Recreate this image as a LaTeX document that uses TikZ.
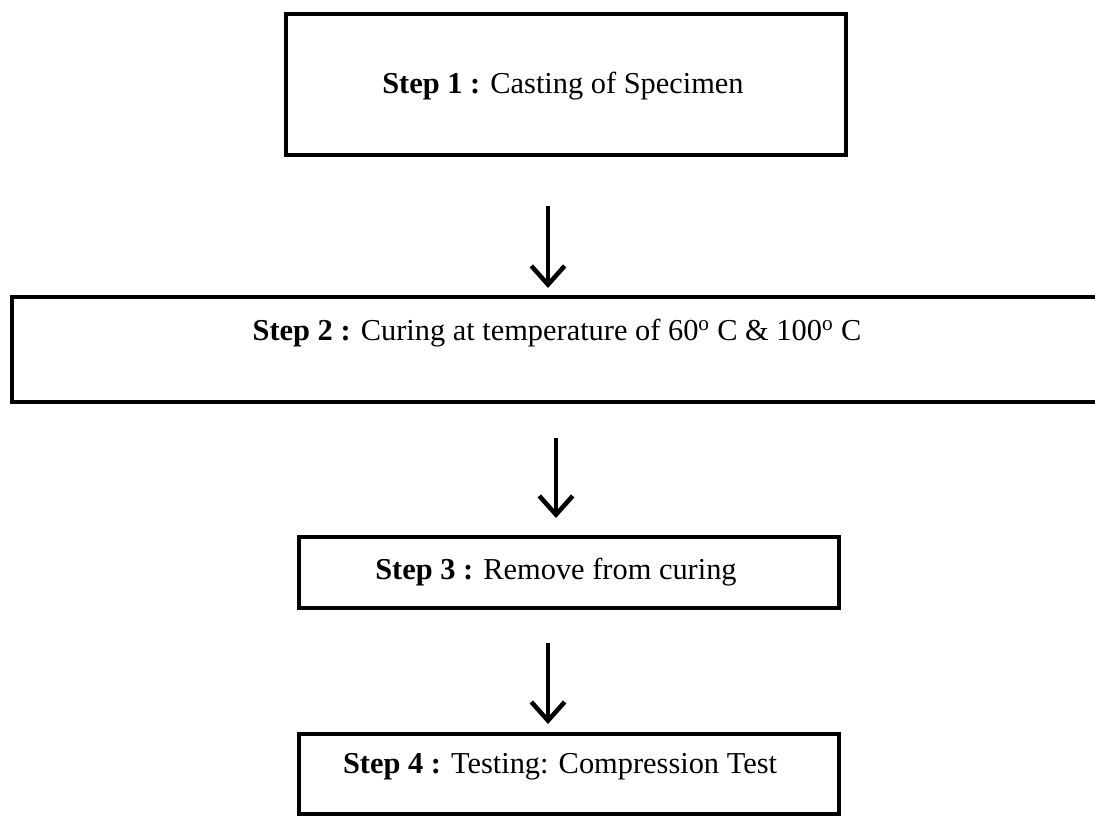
\documentclass[tikz,border=0pt]{standalone}
\usepackage{fontspec}
\setmainfont{Liberation Serif}
\usetikzlibrary{arrows.meta}
\begin{document}
\begin{tikzpicture}[x=0.75pt,y=-0.75pt,
  stepbox/.style={draw=black, line width=3.6pt, rectangle, inner sep=0pt},
  steptext/.style={font=\fontsize{22.8}{26}\selectfont, inner sep=0pt},
  flow/.style={line width=3pt, -{Straight Barb[length=14pt,width=25pt,line width=3.4pt]}}]
\useasboundingbox (0,0) rectangle (1095,817);
\clip (0,0) rectangle (1095,817);
% step boxes (px coordinates, y downward)
\node[stepbox, minimum width=560*0.75pt, minimum height=141*0.75pt] (s1) at (566,84.5) {};
\node[stepbox, minimum width=1100*0.75pt, minimum height=105*0.75pt] (s2) at (562,349.5) {};
\node[stepbox, minimum width=540*0.75pt, minimum height=71*0.75pt] (s3) at (569,572.5) {};
\node[stepbox, minimum width=540*0.75pt, minimum height=80*0.75pt] (s4) at (569,774) {};
% labels
\node[steptext] (t1) at (563,86) {\textbf{Step 1 :} Casting of Specimen};
\node[steptext] (t2) at (557,333) {\textbf{Step 2 :} Curing at temperature of 60\textsuperscript{o} C \& 100\textsuperscript{o} C};
\node[steptext] (t3) at (556,572) {\textbf{Step 3 :} Remove from curing};
\node[steptext] (t4) at (560,767) {\textbf{Step 4 :} Testing: Compression Test};
% connectors
\coordinate (a1s) at (548,206); \coordinate (a1e) at (548,288);
\coordinate (a2s) at (556,438); \coordinate (a2e) at (556,518);
\coordinate (a3s) at (548,643); \coordinate (a3e) at (548,724);
\draw[flow] (a1s) -- (a1e);
\draw[flow] (a2s) -- (a2e);
\draw[flow] (a3s) -- (a3e);
\end{tikzpicture}
\end{document}
